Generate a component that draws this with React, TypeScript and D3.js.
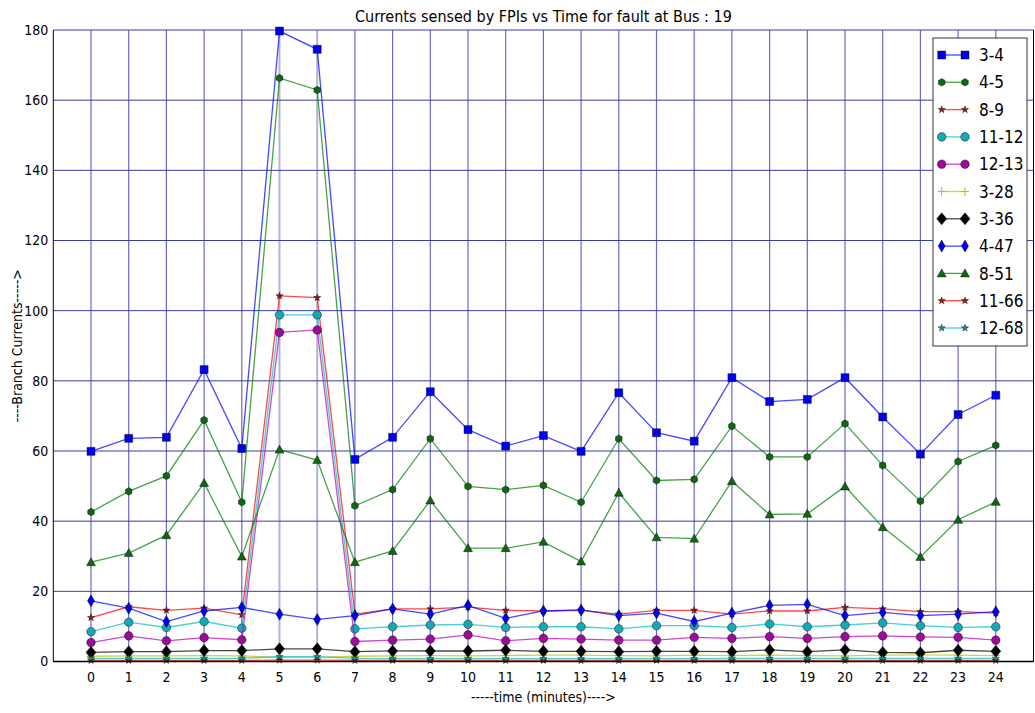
import React from "react";
import * as d3 from "d3";

// time axis (minutes) and y ticks
const TIME = [0, 1, 2, 3, 4, 5, 6, 7, 8, 9, 10, 11, 12, 13, 14, 15, 16, 17, 18, 19, 20, 21, 22, 23, 24];
const Y_TICKS = [0, 20, 40, 60, 80, 100, 120, 140, 160, 180];

// branch currents
const B_3_4 = [59.9, 63.6, 63.9, 83.2, 60.7, 179.7, 174.5, 57.6, 63.9, 76.9, 66.1, 61.4, 64.4, 59.9, 76.6, 65.2, 62.8, 80.9, 74.1, 74.7, 80.9, 69.7, 59.1, 70.4, 75.9];
const B_4_5 = [42.6, 48.5, 52.9, 68.8, 45.4, 166.3, 162.9, 44.4, 49.0, 63.5, 49.9, 49.0, 50.2, 45.4, 63.5, 51.6, 51.9, 67.1, 58.3, 58.3, 67.8, 55.9, 45.7, 57.0, 61.6];
const B_8_9 = [12.5, 15.6, 14.6, 15.2, 13.3, 104.2, 103.7, 13.5, 15.0, 15.0, 15.5, 14.6, 14.4, 14.6, 13.5, 14.6, 14.6, 13.5, 14.4, 14.4, 15.4, 15.0, 14.2, 14.2, 13.8];
const B_11_12 = [8.5, 11.2, 9.7, 11.4, 9.5, 98.8, 98.8, 9.3, 9.9, 10.4, 10.6, 9.7, 9.9, 9.9, 9.3, 10.2, 10.2, 9.7, 10.7, 9.9, 10.4, 11.0, 10.2, 9.7, 9.9];
const B_12_13 = [5.4, 7.3, 5.9, 6.8, 6.2, 93.8, 94.5, 5.7, 6.1, 6.4, 7.6, 5.9, 6.6, 6.4, 6.1, 6.1, 6.9, 6.6, 7.1, 6.6, 7.1, 7.3, 7.0, 6.9, 6.1];
const B_3_28 = [1.5, 1.6, 1.6, 1.7, 1.6, 1.2, 1.2, 1.5, 1.6, 1.7, 1.6, 1.7, 1.8, 1.8, 1.7, 1.6, 1.8, 1.7, 1.8, 1.7, 1.6, 1.8, 1.9, 1.8, 1.7];
const B_3_36 = [2.6, 2.8, 2.8, 3.1, 3.1, 3.6, 3.6, 2.8, 3.0, 3.0, 3.0, 3.2, 2.9, 2.9, 2.8, 2.9, 2.9, 2.8, 3.3, 2.8, 3.3, 2.6, 2.5, 3.2, 2.9];
const B_4_47 = [17.3, 15.2, 11.4, 14.4, 15.4, 13.5, 12.0, 13.1, 15.0, 13.5, 16.0, 12.3, 14.4, 14.7, 13.1, 13.8, 11.4, 13.8, 16.0, 16.3, 13.1, 14.0, 13.1, 13.5, 14.2];
const B_8_51 = [28.3, 30.9, 36.0, 50.9, 29.9, 60.4, 57.4, 28.3, 31.5, 45.9, 32.3, 32.3, 34.1, 28.5, 48.1, 35.4, 35.0, 51.4, 41.9, 42.1, 49.9, 38.3, 29.8, 40.4, 45.5];
const B_11_66 = [0.3, 0.3, 0.3, 0.3, 0.3, 0.4, 0.4, 0.3, 0.3, 0.3, 0.3, 0.3, 0.3, 0.3, 0.3, 0.3, 0.3, 0.3, 0.3, 0.3, 0.3, 0.3, 0.3, 0.3, 0.3];
const B_12_68 = [0.9, 0.9, 0.9, 0.9, 0.9, 1.4, 1.4, 0.9, 0.8, 0.8, 0.8, 0.8, 0.8, 0.8, 0.8, 0.8, 0.8, 0.9, 0.9, 0.9, 0.9, 0.9, 0.9, 0.9, 0.9];

type Marker = "square" | "hexagon" | "star" | "circle" | "plus" | "diamond" | "thin_diamond" | "triangle";

// color = line colour, face = marker face (edges blur darker in the reference)
const SERIES: { name: string; values: number[]; color: string; face: string; marker: Marker }[] = [
  { name: "3-4", values: B_3_4, color: "#0000ff", face: "#0000ee", marker: "square" },
  { name: "4-5", values: B_4_5, color: "#008000", face: "#116611", marker: "hexagon" },
  { name: "8-9", values: B_8_9, color: "#ff0000", face: "#991818", marker: "star" },
  { name: "11-12", values: B_11_12, color: "#00bfbf", face: "#1aa6b4", marker: "circle" },
  { name: "12-13", values: B_12_13, color: "#bf00bf", face: "#9a0c9a", marker: "circle" },
  { name: "3-28", values: B_3_28, color: "#bfbf00", face: "#bfbf00", marker: "plus" },
  { name: "3-36", values: B_3_36, color: "#000000", face: "#000000", marker: "diamond" },
  { name: "4-47", values: B_4_47, color: "#0000ff", face: "#0000ee", marker: "thin_diamond" },
  { name: "8-51", values: B_8_51, color: "#008000", face: "#116611", marker: "triangle" },
  { name: "11-66", values: B_11_66, color: "#ff0000", face: "#991818", marker: "star" },
  { name: "12-68", values: B_12_68, color: "#00bfbf", face: "#1a8f99", marker: "star" },
];

const W = 1035;
const H = 713;
const PLOT = { left: 53.3, right: 1033.5, top: 30, bottom: 661.5 };
const FONT = "'DejaVu Sans Condensed', 'DejaVu Sans', sans-serif";

const polygon = (pts: [number, number][]) => "M" + pts.map((p) => p.join(",")).join("L") + "Z";

const markerPath = (m: Marker): string => {
  switch (m) {
    case "square":
      return "M-4,-4H4V4H-4Z";
    case "hexagon":
      return polygon(d3.range(6).map((i) => {
        const a = -Math.PI / 2 + (i * Math.PI) / 3;
        return [3.8 * Math.cos(a), 3.8 * Math.sin(a)] as [number, number];
      }));
    case "star":
      return d3.symbol(d3.symbolStar, 16)() as string;
    case "circle":
      return d3.symbol(d3.symbolCircle, 58)() as string;
    case "plus":
      return "M-4,0H4M0,-4.5V4.5";
    case "diamond":
      return "M0,-6L5,0L0,6L-5,0Z";
    case "thin_diamond":
      return "M0,-6L3.5,0L0,6L-3.5,0Z";
    case "triangle":
      return "M0,-4.5L4.5,3.5L-4.5,3.5Z";
  }
};

const MarkerShape: React.FC<{ m: Marker; color: string; face: string; x: number; y: number }> = ({ m, color, face, x, y }) =>
  m === "plus" ? (
    <path d={markerPath(m)} transform={`translate(${x},${y})`} fill="none" stroke={color} strokeWidth={1} />
  ) : (
    <path d={markerPath(m)} transform={`translate(${x},${y})`} fill={face} stroke="#000" strokeWidth={0.6} strokeOpacity={0.7} />
  );

export default function App() {
  const x = d3.scaleLinear().domain([-1, 25]).range([PLOT.left, PLOT.right]);
  const y = d3.scaleLinear().domain([0, 180]).range([PLOT.bottom, PLOT.top]);
  const line = d3
    .line<number>()
    .x((_, i) => x(TIME[i]))
    .y((d) => y(d));

  const cx = (PLOT.left + PLOT.right) / 2;
  const cy = (PLOT.top + PLOT.bottom) / 2;

  // legend geometry
  const lg = { x: 933, y: 38, w: 94, h: 308, first: 55, step: 27.3 };

  return (
    <svg
      width={W}
      height={H}
      style={{ position: "absolute", left: 0, top: 0, background: "#fff" }}
      fontFamily={FONT}
    >
      <rect width={W} height={H} fill="#fff" />

      {/* grid */}
      {TIME.map((t) => (
        <line
          key={"v" + t}
          x1={x(t)}
          x2={x(t)}
          y1={PLOT.top}
          y2={PLOT.bottom}
          stroke={t === 5 || t === 6 ? "#b3b3d6" : "#6a6ac0"}
          strokeWidth={t === 5 || t === 6 ? 2 : 1.2}
        />
      ))}
      {Y_TICKS.map((v) => (
        <line key={"h" + v} x1={PLOT.left} x2={PLOT.right} y1={y(v)} y2={y(v)} stroke="#3b3ba6" strokeWidth={1} />
      ))}

      {/* series */}
      {SERIES.map((s) => (
        <g key={s.name}>
          <path d={line(s.values) ?? ""} fill="none" stroke={s.color} strokeWidth={1.3} strokeOpacity={0.72} />
          {s.values.map((v, i) => (
            <MarkerShape key={i} m={s.marker} color={s.color} face={s.face} x={x(TIME[i])} y={y(v)} />
          ))}
        </g>
      ))}

      {/* frame */}
      <line x1={PLOT.left} x2={PLOT.left} y1={PLOT.top} y2={PLOT.bottom} stroke="#000" />
      <line x1={PLOT.right} x2={PLOT.right} y1={PLOT.top} y2={PLOT.bottom} stroke="#000" />
      <line x1={PLOT.left} x2={PLOT.right} y1={PLOT.bottom} y2={PLOT.bottom} stroke="#000" strokeWidth={1.5} />

      {/* ticks */}
      {Y_TICKS.map((v) => (
        <text key={"yt" + v} x={PLOT.left - 5} y={y(v)} dy="0.35em" textAnchor="end" fontSize={14} fill="#000">
          {v}
        </text>
      ))}
      {TIME.map((t) => (
        <text key={"xt" + t} x={x(t)} y={PLOT.bottom + 20} textAnchor="middle" fontSize={14} fill="#000">
          {t}
        </text>
      ))}

      {/* titles */}
      <text x={cx} y={22} textAnchor="middle" fontSize={16} fill="#000">
        Currents sensed by FPIs vs Time for fault at Bus : 19
      </text>
      <text x={cx} y={702} textAnchor="middle" fontSize={14} fill="#000">
        -----time (minutes)----&gt;
      </text>
      <text transform={`translate(22,${cy}) rotate(-90)`} textAnchor="middle" fontSize={14} fill="#000">
        ----Branch Currents-----&gt;
      </text>

      {/* legend */}
      <rect x={lg.x} y={lg.y} width={lg.w} height={lg.h} fill="#fff" stroke="#333" strokeWidth={1} />
      {SERIES.map((s, i) => {
        const ly = lg.first + i * lg.step;
        return (
          <g key={"lg" + s.name}>
            <line x1={941.7} x2={965} y1={ly} y2={ly} stroke={s.color} strokeWidth={1.3} strokeOpacity={0.72} />
            <MarkerShape m={s.marker} color={s.color} face={s.face} x={941.7} y={ly} />
            <MarkerShape m={s.marker} color={s.color} face={s.face} x={965} y={ly} />
            <text x={979} y={ly} dy="0.36em" fontSize={17} fill="#000">
              {s.name}
            </text>
          </g>
        );
      })}
    </svg>
  );
}
